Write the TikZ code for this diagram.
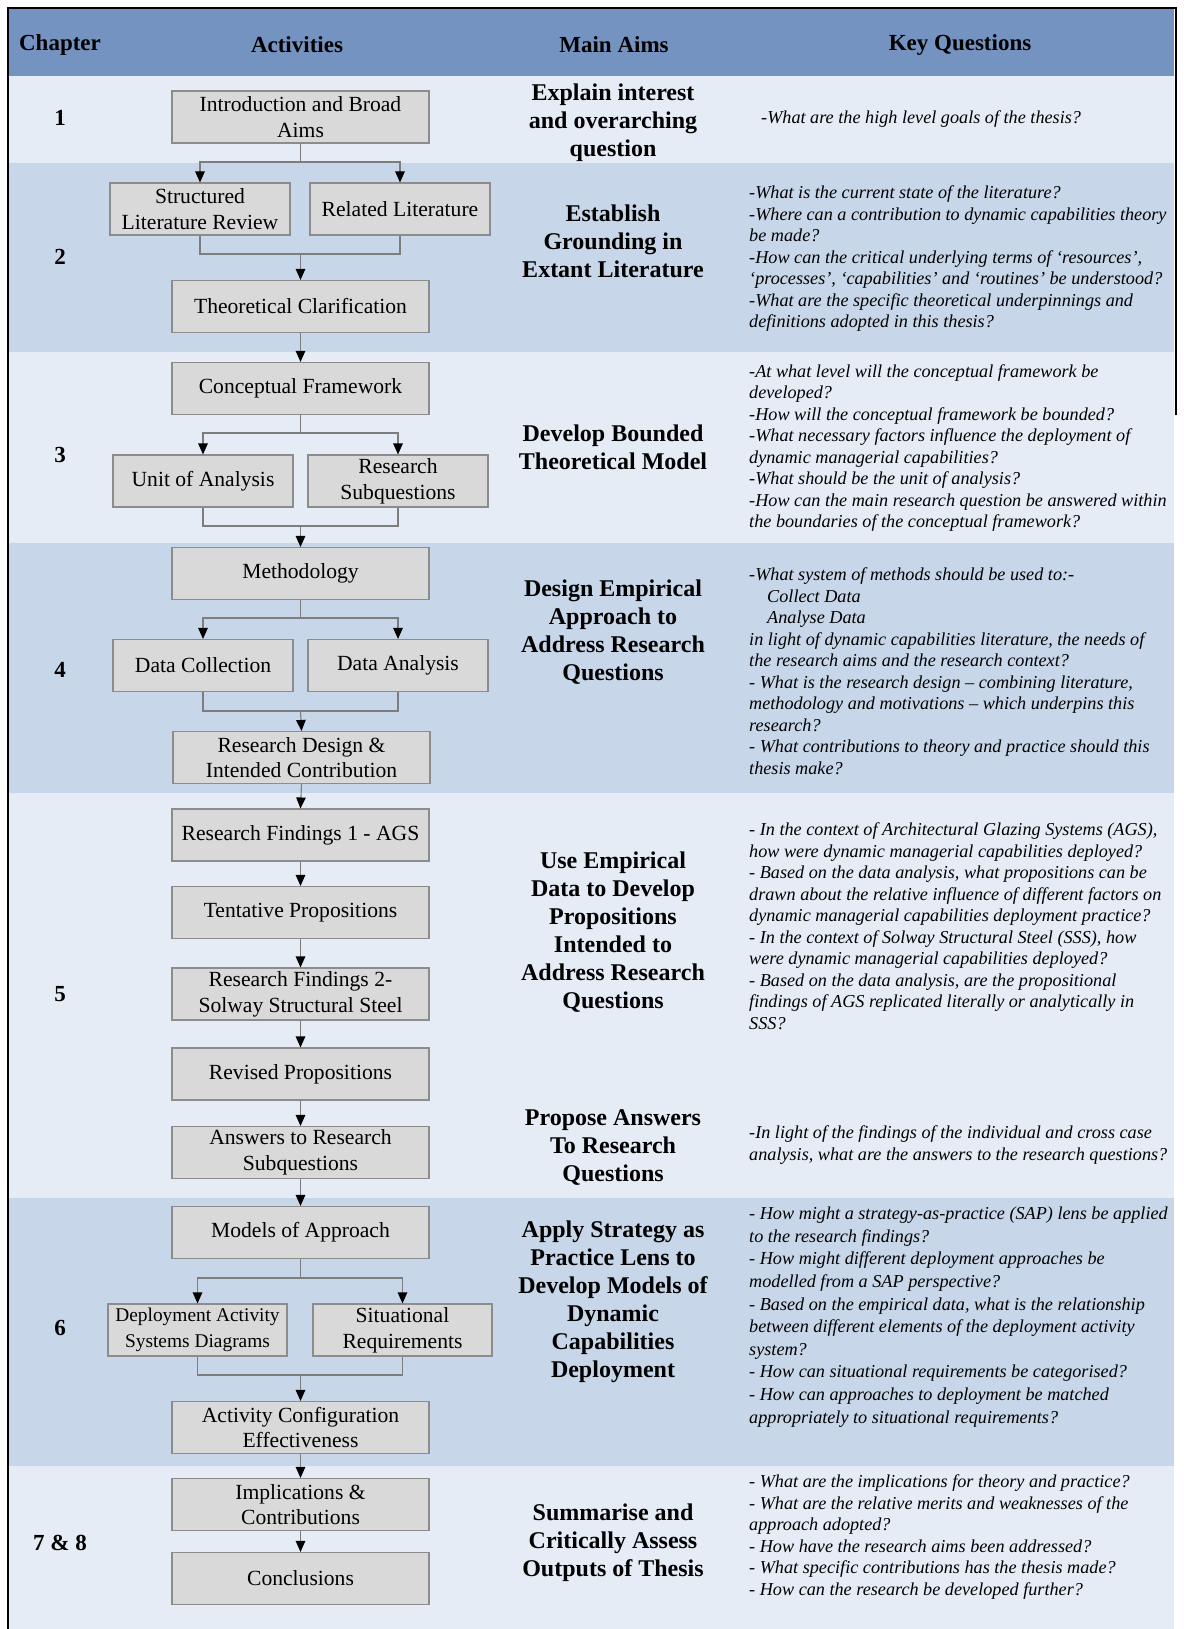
\documentclass[tikz,border=0pt]{standalone}
\usepackage{fontspec}
\setmainfont{Liberation Serif}
\usetikzlibrary{arrows.meta}

\definecolor{headblue}{RGB}{117,147,192}
\definecolor{bandlight}{RGB}{229,236,246}
\definecolor{banddark}{RGB}{199,214,232}
\definecolor{boxfill}{RGB}{217,217,217}
\definecolor{boxline}{RGB}{140,140,140}
\definecolor{connline}{RGB}{125,125,125}

\newcommand{\boxfnt}{\fontsize{21.6}{25.7}\selectfont}
\newcommand{\smallboxfnt}{\fontsize{19.4}{25.7}\selectfont}
\newcommand{\headfnt}{\fontsize{23}{27}\selectfont\bfseries}
\newcommand{\aimfnt}{\fontsize{24}{28}\selectfont\bfseries}
\newcommand{\kqfnt}{\fontsize{18.2}{21.5}\selectfont\itshape}

\begin{document}
\begin{tikzpicture}[x=1pt,y=-1pt,
  stepbox/.style={draw=boxline, fill=boxfill, line width=1.1pt, minimum height=52pt,
                  inner sep=0pt, align=center, font=\boxfnt},
  mainbox/.style={stepbox, minimum width=257pt},
  sidebox/.style={stepbox, minimum width=180pt},
  conn/.style={draw=connline, line width=1.1pt},
  arr/.style={conn, -{Triangle[length=11pt,width=9.5pt,color=black]}},
  head/.style={font=\headfnt},
  chap/.style={font=\headfnt},
  aim/.style={font=\aimfnt, align=center},
  kq/.style={font=\kqfnt, align=left, anchor=west, inner sep=0pt},
]
\useasboundingbox (0,0) rectangle (1183,1629);
\fill[white] (0,0) rectangle (1183,1629);

% row bands
\fill[headblue]  (9,9)    rectangle (1174,76);
\fill[bandlight] (9,76)   rectangle (1174,163);
\fill[banddark]  (9,163)  rectangle (1174,352);
\fill[bandlight] (9,352)  rectangle (1174,543);
\fill[banddark]  (9,543)  rectangle (1174,793);
\fill[bandlight] (9,793)  rectangle (1174,1198);
\fill[banddark]  (9,1198) rectangle (1174,1466);
\fill[bandlight] (9,1466) rectangle (1174,1629);

% frame
\draw[line width=2pt] (8,1629) -- (8,8) -- (1176,8) -- (1176,415);

% header
\node[head] (hchap) at (60,45)  {Chapter};
\node[head] (hact)  at (297,45) {Activities};
\node[head] (haim)  at (614,45) {Main Aims};
\node[head] (hkq)   at (960,45) {Key Questions};

% chapter numbers
\node[chap] (c1) at (60,118)  {1};
\node[chap] (c2) at (60,257)  {2};
\node[chap] (c3) at (60,455)  {3};
\node[chap] (c4) at (60,670)  {4};
\node[chap] (c5) at (60,994)  {5};
\node[chap] (c6) at (60,1328) {6};
\node[chap] (c7) at (60,1543) {7 \& 8};

% activity boxes
\node[mainbox] (intro) at (300.5,117)  {Introduction and Broad\\Aims};
\node[sidebox] (slr)   at (200,209)    {Structured\\Literature Review};
\node[sidebox] (rl)    at (400,209)    {Related Literature};
\node[mainbox] (tc)    at (300.5,306.5){Theoretical Clarification};
\node[mainbox] (cf)    at (300.5,388.5){Conceptual Framework};
\node[sidebox] (uoa)   at (203,481)    {Unit of Analysis};
\node[sidebox] (rsq)   at (398,481)    {Research\\Subquestions};
\node[mainbox] (meth)  at (300.5,573.5){Methodology};
\node[sidebox] (dc)    at (203,665.5)  {Data Collection};
\node[sidebox] (da)    at (398,665.5)  {Data Analysis};
\node[mainbox] (rd)    at (301.5,757.5){Research Design \&\\Intended Contribution};
\node[mainbox] (rf1)   at (300.5,835)  {Research Findings 1 - AGS};
\node[mainbox] (tp)    at (300.5,912.5){Tentative Propositions};
\node[mainbox] (rf2)   at (300.5,994)  {Research Findings 2-\\Solway Structural Steel};
\node[mainbox] (rp)    at (300.5,1074) {Revised Propositions};
\node[mainbox] (ars)   at (300.5,1152.5){Answers to Research\\Subquestions};
\node[mainbox] (moa)   at (300.5,1232.5){Models of Approach};
\node[sidebox, minimum width=179pt, font=\smallboxfnt] (das) at (197.5,1330) {Deployment Activity\\Systems Diagrams};
\node[sidebox, minimum width=179pt] (sr) at (402.5,1330) {Situational\\Requirements};
\node[mainbox] (ace)   at (300.5,1427.5){Activity Configuration\\Effectiveness};
\node[mainbox] (ic)    at (300.5,1504.5){Implications \&\\Contributions};
\node[mainbox] (con)   at (300.5,1578.5){Conclusions};

% branch and merge points
\coordinate (s2) at (300.5,162);
\coordinate (j2) at (300.5,254);
\coordinate (s3) at (300.5,433);
\coordinate (j3) at (300.5,526);
\coordinate (s4) at (300.5,618);
\coordinate (j4) at (300.5,711);
\coordinate (s6) at (300.5,1278);
\coordinate (j6) at (300.5,1375);

% chapter 2
\draw[conn] (intro.south) -- (s2);
\draw[arr] (s2) -| (slr.north);
\draw[arr] (s2) -| (rl.north);
\draw[conn] (slr.south) |- (j2) -| (rl.south);
\draw[arr] (j2) -- (tc.north);
\draw[arr] (tc.south) -- (cf.north);
% chapter 3
\draw[conn] (cf.south) -- (s3);
\draw[arr] (s3) -| (uoa.north);
\draw[arr] (s3) -| (rsq.north);
\draw[conn] (uoa.south) |- (j3) -| (rsq.south);
\draw[arr] (j3) -- (meth.north);
% chapter 4
\draw[conn] (meth.south) -- (s4);
\draw[arr] (s4) -| (dc.north);
\draw[arr] (s4) -| (da.north);
\draw[conn] (dc.south) |- (j4) -| (da.south);
\draw[arr] (j4) -- (rd.north);
% chapter 5
\draw[arr] (rd.south) -- (rf1.north);
\draw[arr] (rf1.south) -- (tp.north);
\draw[arr] (tp.south) -- (rf2.north);
\draw[arr] (rf2.south) -- (rp.north);
\draw[arr] (rp.south) -- (ars.north);
\draw[arr] (ars.south) -- (moa.north);
% chapter 6
\draw[conn] (moa.south) -- (s6);
\draw[arr] (s6) -| (das.north);
\draw[arr] (s6) -| (sr.north);
\draw[conn] (das.south) |- (j6) -| (sr.south);
\draw[arr] (j6) -- (ace.north);
% chapters 7 and 8
\draw[arr] (ace.south) -- (ic.north);
\draw[arr] (ic.south) -- (con.north);

% main aims
\node[aim] (a1) at (613,123)  {Explain interest\\and overarching\\question};
\node[aim] (a2) at (613,241)  {Establish\\Grounding in\\Extant Literature};
\node[aim] (a3) at (613,447)  {Develop Bounded\\Theoretical Model};
\node[aim] (a4) at (613,632)  {Design Empirical\\Approach to\\Address Research\\Questions};
\node[aim] (a5) at (613,932)  {Use Empirical\\Data to Develop\\Propositions\\Intended to\\Address Research\\Questions};
\node[aim] (a5b) at (613,1148) {Propose Answers\\To Research\\Questions};
\node[aim] (a6) at (613,1302) {Apply Strategy as\\Practice Lens to\\Develop Models of\\Dynamic\\Capabilities\\Deployment};
\node[aim] (a7) at (613,1543) {Summarise and\\Critically Assess\\Outputs of Thesis};

% key questions
\node[kq] (q1) at (749,119) {\hspace*{12pt}-What are the high level goals of the thesis?};
\node[kq] (q2) at (749,259) {-What is the current state of the literature?\\
-Where can a contribution to dynamic capabilities theory\\
be made?\\
-How can the critical underlying terms of ‘resources’,\\
‘processes’, ‘capabilities’ and ‘routines’ be understood?\\
-What are the specific theoretical underpinnings and\\
definitions adopted in this thesis?};
\node[kq] (q3) at (749,448) {-At what level will the conceptual framework be\\
developed?\\
-How will the conceptual framework be bounded?\\
-What necessary factors influence the deployment of\\
dynamic managerial capabilities?\\
-What should be the unit of analysis?\\
-How can the main research question be answered within\\
the boundaries of the conceptual framework?};
\node[kq] (q4) at (749,671) {-What system of methods should be used to:-\\
\hspace*{18pt}Collect Data\\
\hspace*{18pt}Analyse Data\\
in light of dynamic capabilities literature, the needs of\\
the research aims and the research context?\\
- What is the research design – combining literature,\\
methodology and motivations – which underpins this\\
research?\\
- What contributions to theory and practice should this\\
thesis make?};
\node[kq] (q5) at (749,926) {- In the context of Architectural Glazing Systems (AGS),\\
how were dynamic managerial capabilities deployed?\\
- Based on the data analysis, what propositions can be\\
drawn about the relative influence of different factors on\\
dynamic managerial capabilities deployment practice?\\
- In the context of Solway Structural Steel (SSS), how\\
were dynamic managerial capabilities deployed?\\
- Based on the data analysis, are the propositional\\
findings of AGS replicated literally or analytically in\\
SSS?};
\node[kq] (q5b) at (749,1145) {-In light of the findings of the individual and cross case\\
analysis, what are the answers to the research questions?};
\node[kq, font=\itshape\fontsize{18.2}{22.6}\selectfont] (q6) at (749,1317) {- How might a strategy-as-practice (SAP) lens be applied\\
to the research findings?\\
- How might different deployment approaches be\\
modelled from a SAP perspective?\\
- Based on the empirical data, what is the relationship\\
between different elements of the deployment activity\\
system?\\
- How can situational requirements be categorised?\\
- How can approaches to deployment be matched\\
appropriately to situational requirements?};
\node[kq] (q7) at (749,1537) {- What are the implications for theory and practice?\\
- What are the relative merits and weaknesses of the\\
approach adopted?\\
- How have the research aims been addressed?\\
- What specific contributions has the thesis made?\\
- How can the research be developed further?};
\end{tikzpicture}
\end{document}
